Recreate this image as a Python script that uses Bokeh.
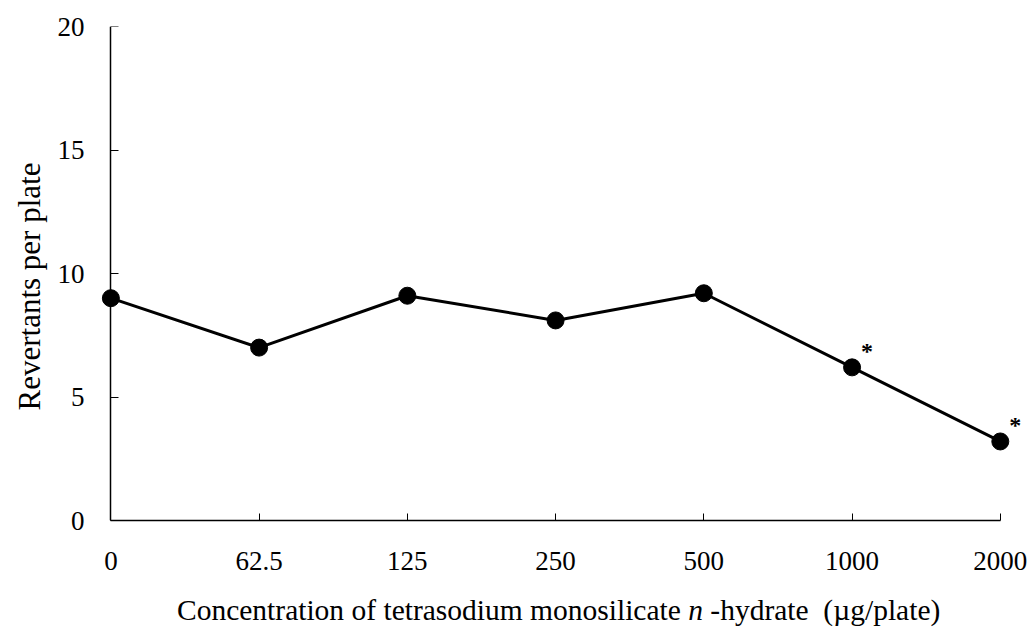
from bokeh.plotting import figure
from bokeh.models import (Range1d, FixedTicker, LinearAxis, Title, Div,
                          ColumnDataSource)
from bokeh.layouts import column
from bokeh.core.properties import value
from bokeh.embed import file_html
from bokeh.resources import INLINE

# ---- data ----
categories = ["0", "62.5", "125", "250", "500", "1000", "2000"]
revertants = [9.0, 7.0, 9.1, 8.1, 9.2, 6.2, 3.2]
significance = ["", "", "", "", "", "*", "*"]
y_ticks = [0, 5, 10, 15, 20]
y_title = "Revertants per plate"
x_title_html = ("Concentration of tetrasodium monosilicate <i>n</i> -hydrate"
                "&nbsp;&nbsp;(&micro;g/plate)")

x_pos = list(range(len(categories)))
src = ColumnDataSource(dict(x=x_pos, y=revertants, mark=significance))

FONT = "Liberation Serif"

p = figure(width=1030, height=594, output_backend="svg", toolbar_location=None,
           title=None, x_range=Range1d(-0.07, 6.17), y_range=Range1d(0, 20),
           min_border_left=100, min_border_right=5, min_border_top=26,
           min_border_bottom=74)
p.outline_line_color = None
p.xgrid.visible = False
p.ygrid.visible = False
p.background_fill_color = "white"
p.border_fill_color = "white"

p.line("x", "y", source=src, line_color="black", line_width=3)
p.scatter("x", "y", source=src, size=17, fill_color="black", line_color="black")
p.text("x", "y", text="mark", source=src, x_offset=15, y_offset=-16,
       text_align="center", text_baseline="middle", text_color="black",
       text_font=value(FONT), text_font_size="24px", text_font_style="bold")

# x axis
xa = p.xaxis[0]
xa.ticker = FixedTicker(ticks=x_pos)
xa.major_label_overrides = {i: c for i, c in zip(x_pos, categories)}
xa.bounds = (0, len(categories) - 1)
xa.minor_tick_line_color = None
xa.major_tick_in = 7
xa.major_tick_out = 0
xa.major_label_standoff = 31
xa.major_label_text_font = FONT
xa.major_label_text_font_size = "27px"
xa.major_label_text_color = "black"
xa.axis_line_width = 1.5
xa.axis_line_color = "black"
xa.major_tick_line_color = "black"

# y axis: labels only (at frame edge)
ya = p.yaxis[0]
ya.ticker = FixedTicker(ticks=y_ticks)
ya.axis_line_color = None
ya.major_tick_line_color = None
ya.minor_tick_line_color = None
ya.major_tick_in = 0
ya.major_tick_out = 0
ya.major_label_standoff = 16
ya.major_label_text_font = FONT
ya.major_label_text_font_size = "27px"
ya.major_label_text_color = "black"

# y axis line + ticks drawn at x = 0
ya2 = LinearAxis(fixed_location=0, ticker=FixedTicker(ticks=y_ticks),
                 bounds=(0, 20), major_tick_in=8, major_tick_out=0,
                 minor_tick_line_color=None, major_label_standoff=0,
                 major_label_text_font_size="0px", major_label_text_color=None,
                 axis_line_width=1.5, axis_line_color="black",
                 major_tick_line_color="black")
p.add_layout(ya2, "left")

p.add_layout(Title(text=y_title, align="left", offset=110, standoff=12,
                   vertical_align="top",
                   text_font=FONT, text_font_size="31px",
                   text_font_style="normal", text_color="black"), "left")

xdiv = Div(text=('<div style="margin-left:177px;font-family:\'Liberation Serif\';'
                 'font-size:29.5px;line-height:33px;white-space:nowrap;color:black">'
                 + x_title_html + '</div>'),
           width=1030, height=34, margin=0)

layout = column(p, xdiv, spacing=0)

open("out.html", "w").write(file_html(layout, INLINE))
